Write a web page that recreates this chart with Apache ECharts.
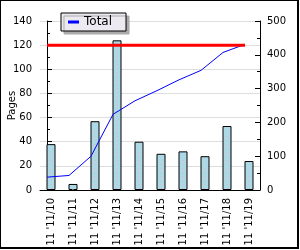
<!DOCTYPE html>
<html><head><meta charset="utf-8">
<script src="https://cdn.jsdelivr.net/npm/echarts@6/dist/echarts.min.js"></script>
<style>
html,body{margin:0;padding:0;background:#fff;}
#c{position:absolute;left:0;top:0;width:299px;height:249px;box-sizing:border-box;border-left:1px solid #000;border-top:1px solid #000;border-right:2px solid #000;border-bottom:2px solid #000;}
#chart{width:296px;height:246px;}
</style></head>
<body><div id="c"><div id="chart"></div></div>
<script>
const categories = ["11 '11/10","11 '11/11","11 '11/12","11 '11/13","11 '11/14","11 '11/15","11 '11/16","11 '11/17","11 '11/18","11 '11/19"];
const pages = [38, 5, 57, 124, 40, 30, 32, 28, 53, 24];
const total = [38, 43, 100, 224, 264, 294, 326, 354, 407, 431];
const target = [120, 120, 120, 120, 120, 120, 120, 120, 120, 120];

// line plots sit slightly left of the bar centres, as in the source chart
const lineShift = 0.18;
const n = categories.length;

const chart = echarts.init(document.getElementById('chart'));
const font = 'DejaVu Sans';
chart.setOption({
  animation: false,
  backgroundColor: '#fff',
  textStyle: {fontFamily: font},
  grid: {left: 39, right: 37, top: 20, bottom: 57, containLabel: false, outerBoundsMode: 'none'},
  legend: {
    left: 60, top: 12,
    data: [{name: 'Total', icon: 'rect'}],
    itemWidth: 11, itemHeight: 3,
    padding: [3, 14, 3, 7],
    backgroundColor: '#eceaf0', borderColor: '#000', borderWidth: 1,
    shadowColor: '#aaa', shadowOffsetX: 3, shadowOffsetY: 3, shadowBlur: 0,
    textStyle: {fontFamily: font, fontSize: 12, color: '#000'}
  },
  xAxis: [{
    type: 'category', data: categories, boundaryGap: true,
    axisLine: {lineStyle: {color: '#000', width: 1}},
    axisTick: {inside: true, length: 5, lineStyle: {color: '#000'}},
    axisLabel: {rotate: 90, fontSize: 10, color: '#000', margin: 8, interval: 0, fontFamily: font}
  }, {
    type: 'value', show: false, min: -0.5 + lineShift, max: n - 0.5 + lineShift,
    position: 'bottom', splitLine: {show: false}
  }],
  yAxis: [{
    type: 'value', min: 0, max: 140, interval: 20,
    name: 'Pages', nameLocation: 'middle', nameRotate: 90, nameGap: 23, nameMoveOverlap: false,
    nameTextStyle: {fontSize: 10, color: '#000', fontFamily: font},
    axisLine: {show: true, lineStyle: {color: '#000'}},
    axisTick: {show: true, inside: true, length: 5, lineStyle: {color: '#000'}},
    minorTick: {show: true, splitNumber: 2, length: 3, lineStyle: {color: '#000'}},
    axisLabel: {fontSize: 10, color: '#000', margin: 8, fontFamily: font},
    splitLine: {show: true, lineStyle: {color: '#ddd', width: 1}}
  }, {
    type: 'value', min: 0, max: 500, interval: 100, position: 'right',
    axisLine: {show: true, lineStyle: {color: '#000'}},
    axisTick: {show: true, inside: true, length: 5, lineStyle: {color: '#000'}},
    minorTick: {show: true, splitNumber: 2, length: 3, lineStyle: {color: '#000'}},
    axisLabel: {fontSize: 10, color: '#000', margin: 7, fontFamily: font},
    splitLine: {show: false}
  }],
  series: [{
    name: 'Pages', type: 'bar', data: pages, barWidth: 9,
    itemStyle: {color: '#add8e6', borderColor: '#000', borderWidth: 1}
  }, {
    name: 'dots', type: 'custom', data: pages, z: 3,
    renderItem: function (params, api) {
      const i = api.value(0), v = api.value(1);
      const p0 = api.coord([i, 0]), p1 = api.coord([i, v]);
      return {type: 'line', shape: {x1: p0[0], y1: p0[1] - 1, x2: p1[0], y2: p1[1] + 8},
        style: {stroke: '#f0b0b0', lineWidth: 1, lineDash: [1, 3]}};
    },
    encode: {x: 0, y: 1}
  }, {
    name: 'Total', type: 'line', xAxisIndex: 1, yAxisIndex: 1,
    data: total.map((v, i) => [i, v]), smooth: false,
    showSymbol: false, symbol: 'none', z: 4,
    lineStyle: {color: '#0000ff', width: 1}, itemStyle: {color: '#0000ff'}
  }, {
    name: 'Target', type: 'line', xAxisIndex: 1, yAxisIndex: 0,
    data: target.map((v, i) => [i, v]), showSymbol: false, symbol: 'none', z: 5,
    lineStyle: {color: '#ff0000', width: 3}, itemStyle: {color: '#ff0000'}
  }]
});
</script></body></html>
